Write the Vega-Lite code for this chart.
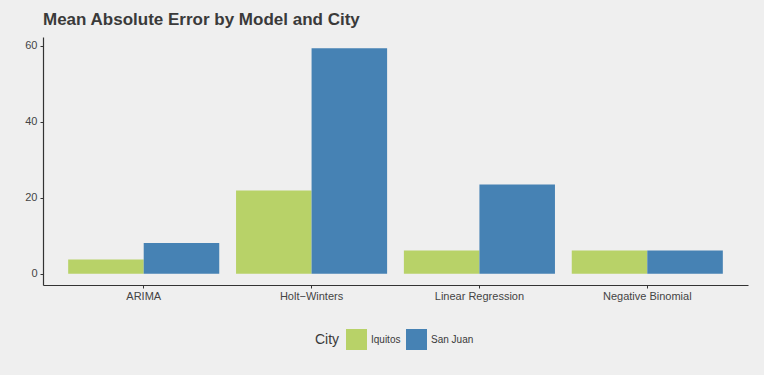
{
  "$schema": "https://vega.github.io/schema/vega-lite/v6.json",
  "width": 705,
  "height": 248,
  "autosize": {"type": "none"},
  "padding": {"left": 43, "top": 37, "right": 16, "bottom": 90},
  "background": "#EFEFEF",
  "title": {
    "text": "Mean Absolute Error by Model and City",
    "anchor": "start",
    "frame": "group",
    "font": "Liberation Sans",
    "fontSize": 17,
    "fontWeight": "bold",
    "color": "#3a3a3a",
    "offset": 8
  },
  "data": {
    "values": [
      {"model": "ARIMA", "city": "Iquitos", "mae": 3.77},
      {"model": "ARIMA", "city": "San Juan", "mae": 8.07},
      {"model": "Holt\u2212Winters", "city": "Iquitos", "mae": 21.96},
      {"model": "Holt\u2212Winters", "city": "San Juan", "mae": 59.4},
      {"model": "Linear Regression", "city": "Iquitos", "mae": 6.14},
      {"model": "Linear Regression", "city": "San Juan", "mae": 23.5},
      {"model": "Negative Binomial", "city": "Iquitos", "mae": 6.14},
      {"model": "Negative Binomial", "city": "San Juan", "mae": 6.14}
    ]
  },
  "mark": {"type": "bar", "clip": true},
  "encoding": {
    "x": {
      "field": "model",
      "type": "nominal",
      "sort": null,
      "scale": {"paddingInner": 0.1, "paddingOuter": 0.15},
      "axis": {
        "title": null,
        "labelAngle": 0,
        "labelFont": "Liberation Sans",
        "labelFontSize": 11,
        "labelColor": "#444444",
        "labelPadding": 2,
        "domainColor": "#333333",
        "domainWidth": 1.2,
        "tickColor": "#333333",
        "tickSize": 3,
        "grid": false
      }
    },
    "xOffset": {
      "field": "city",
      "type": "nominal",
      "scale": {"paddingInner": 0, "paddingOuter": 0}
    },
    "y": {
      "field": "mae",
      "type": "quantitative",
      "scale": {"domain": [-2.97, 62.37], "nice": false, "zero": false},
      "axis": {
        "title": null,
        "values": [0, 20, 40, 60],
        "labelFont": "Liberation Sans",
        "labelFontSize": 11,
        "labelColor": "#444444",
        "labelPadding": 3,
        "domainColor": "#333333",
        "domainWidth": 1.2,
        "tickColor": "#333333",
        "tickSize": 3,
        "grid": false
      }
    },
    "y2": {"datum": 0},
    "color": {
      "field": "city",
      "type": "nominal",
      "scale": {"domain": ["Iquitos", "San Juan"], "range": ["#B8D268", "#4682B4"]},
      "legend": {
        "title": "City",
        "orient": "none",
        "legendX": 272,
        "legendY": 292,
        "direction": "horizontal",
        "titleOrient": "left",
        "titleFont": "Liberation Sans",
        "titleFontSize": 14,
        "titleFontWeight": "normal",
        "titleColor": "#3a3a3a",
        "titlePadding": 6,
        "labelFont": "Liberation Sans",
        "labelFontSize": 10,
        "labelColor": "#3a3a3a",
        "symbolType": "square",
        "symbolSize": 441,
        "symbolStrokeWidth": 0,
        "symbolOpacity": 1,
        "columnPadding": 5,
        "labelOffset": 4
      }
    }
  },
  "config": {
    "view": {"stroke": null},
    "axis": {"labelFont": "Liberation Sans"}
  }
}
